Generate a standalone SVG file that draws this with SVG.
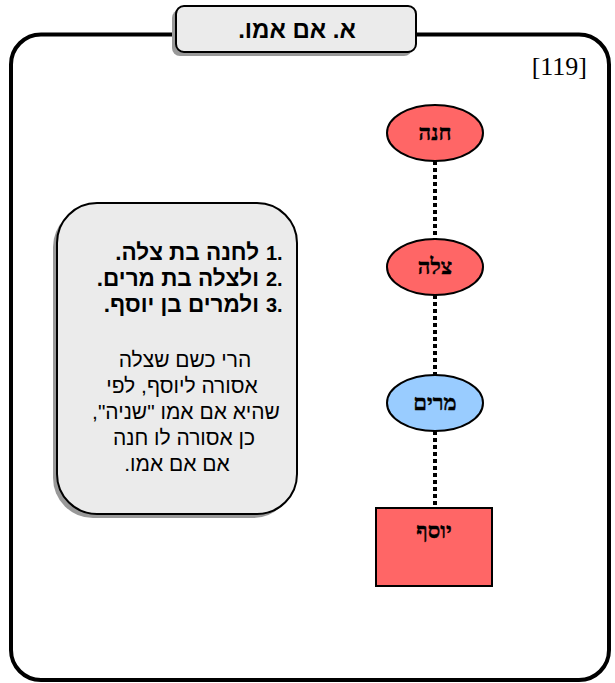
<svg xmlns="http://www.w3.org/2000/svg" width="615" height="683" viewBox="0 0 615 683">
<defs>
<style>
.frame{fill:none;stroke:#000;stroke-width:4}
.box{fill:#ebebeb;stroke:#000;stroke-width:2}
.shadow{fill:#999}
.red{fill:#ff6666;stroke:#000;stroke-width:2}
.blue{fill:#99ccff;stroke:#000;stroke-width:2}
.lbl{font-family:"Liberation Serif","DejaVu Serif",serif;font-weight:bold;font-size:22px;text-anchor:middle;fill:#000;stroke:#000;stroke-width:0.4}
.num{font-family:"Liberation Sans","DejaVu Sans",sans-serif;font-weight:bold;font-size:20px;fill:#000}
.list{font-family:"Liberation Sans","DejaVu Sans",sans-serif;font-weight:bold;font-size:22.5px;fill:#000;text-anchor:end}
.para{font-family:"Liberation Sans","DejaVu Sans",sans-serif;font-size:21px;fill:#000;text-anchor:middle}
.dot{stroke:#000;stroke-width:4;stroke-dasharray:4 3;fill:none}
</style>
</defs>
<rect x="0" y="0" width="615" height="683" fill="#fff"/>
<rect id="frame" class="frame" x="11" y="34.5" width="598" height="645.5" rx="30" ry="30"/>
<g id="title">
<rect class="shadow" x="172" y="10" width="240" height="46" rx="8"/>
<rect class="box" x="176" y="6" width="240" height="46" rx="8"/>
<text x="297" y="38" style="font-family:'Liberation Sans','DejaVu Sans',sans-serif;font-weight:bold;font-size:24px;text-anchor:middle">א. אם אמו.&#x200F;</text>
</g>
<text id="ref" x="587" y="75" style="font-family:'Liberation Serif','DejaVu Serif',serif;font-size:26px;text-anchor:end">[119]</text>
<g id="connectors">
<line class="dot" x1="435" y1="161" x2="435" y2="240"/>
<line class="dot" x1="435" y1="295" x2="435" y2="375"/>
<line class="dot" x1="435" y1="431" x2="435" y2="508"/>
</g>
<g id="node-hana">
<ellipse class="red" cx="435" cy="133" rx="48" ry="28"/>
<text class="lbl" x="435" y="140">חנה</text>
</g>
<g id="node-tsila">
<ellipse class="red" cx="435" cy="267" rx="48" ry="28"/>
<text class="lbl" x="435" y="274">צלה</text>
</g>
<g id="node-miriam">
<ellipse class="blue" cx="435" cy="403" rx="48" ry="28"/>
<text class="lbl" x="435" y="410">מרים</text>
</g>
<g id="node-yosef">
<rect class="red" x="376" y="508" width="116" height="78"/>
<text class="lbl" x="434" y="538">יוסף</text>
</g>
<g id="note">
<rect class="shadow" x="53" y="207" width="240" height="311" rx="40"/>
<rect class="box" x="57" y="203" width="240" height="311" rx="40"/>
<text class="num" x="277" y="260" text-anchor="end">1</text>
<text class="num" x="277" y="260">.</text>
<text class="list" x="259" y="260">&#x200F;לחנה בת צלה.&#x200F;</text>
<text class="num" x="277" y="286" text-anchor="end">2</text>
<text class="num" x="277" y="286">.</text>
<text class="list" x="259" y="286">&#x200F;ולצלה בת מרים.&#x200F;</text>
<text class="num" x="277" y="312" text-anchor="end">3</text>
<text class="num" x="277" y="312">.</text>
<text class="list" x="259" y="312">&#x200F;ולמרים בן יוסף.&#x200F;</text>
<text class="para" x="185" y="367">הרי כשם שצלה</text>
<text class="para" x="182" y="393">אסורה ליוסף, לפי</text>
<text class="para" x="186" y="419">&#x200F;שהיא אם אמו "שניה",&#x200F;</text>
<text class="para" x="184" y="445">כן אסורה לו חנה</text>
<text class="para" x="177" y="471">אם אם אמו.&#x200F;</text>
</g>
</svg>
